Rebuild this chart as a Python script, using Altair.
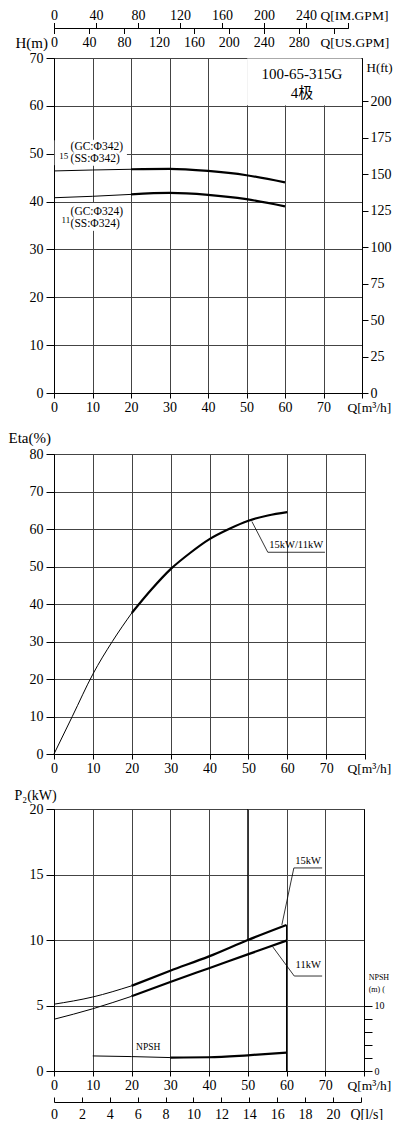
import altair as alt
import pandas as pd

SERIF = "Liberation Serif"
SERIF_CJK = "Liberation Serif, Noto Sans CJK SC"

# ---------------- data ----------------
# H-Q curves (m3/h, m)
q_h = [0, 10, 20, 30, 40, 50, 60]
h_phi342 = [46.4, 46.6, 46.75, 46.85, 46.4, 45.5, 44.0]
h_phi324 = [40.8, 41.1, 41.5, 41.8, 41.4, 40.5, 39.0]

# efficiency curve (m3/h, %)
q_eta = [0, 4.7, 10, 15, 20, 25, 30, 35, 40, 45, 50, 55, 60]
eta_vals = [0, 10, 21.3, 30, 37.6, 43.8, 49.3, 53.6, 57.3, 60.0, 62.2, 63.6, 64.5]

# power curves (m3/h, kW)
q_p = [0, 10, 20, 30, 40, 50, 60]
p_15kw = [5.1, 5.65, 6.5, 7.65, 8.75, 10.0, 11.15]
p_11kw = [3.95, 4.75, 5.7, 6.8, 7.85, 8.9, 9.95]

# NPSH curve (m3/h, m)
q_npsh = [10, 20, 30, 40, 50, 60]
npsh_vals = [2.3, 2.2, 2.05, 2.1, 2.4, 2.8]

# tick values
q_ticks = [0, 10, 20, 30, 40, 50, 60, 70, 80]
h_ticks = [0, 10, 20, 30, 40, 50, 60, 70]
hft_ticks = [0, 25, 50, 75, 100, 125, 150, 175, 200]
eta_ticks = [0, 10, 20, 30, 40, 50, 60, 70, 80]
p_ticks = [0, 5, 10, 15, 20]
npsh_ticks = [0, 2, 4, 6, 8, 10]
im_ticks = [0, 40, 80, 120, 160, 200, 240, 280]
us_ticks = [0, 40, 80, 120, 160, 200, 240, 280, 320]
ls_ticks = [0, 2, 4, 6, 8, 10, 12, 14, 16, 18, 20, 22]

# annotation texts
model_text = ["100-65-315G", "4极"]
model_q = [64.4, 64.4]
model_v = [66.7, 62.6]

imp_text = ["(GC:Φ342)", "(SS:Φ342)", "(GC:Φ324)", "(SS:Φ324)"]
imp_q = [4.3, 4.3, 4.3, 4.3]
imp_v = [51.3, 48.8, 37.9, 35.4]
pow_text = ["15", "11"]
pow_q = [2.5, 3.1]
pow_v = [49.6, 36.2]
bg_q = [0.3, 1.5]
bg_q2 = [18.8, 18.5]
bg_v = [47.6, 34.0]
bg_v2 = [52.8, 39.6]
box_q, box_q2, box_v, box_v2 = [50.2], [79.8], [60.2], [69.8]

eta_lab_text = ["15kW/11kW"]
eta_lab_q = [62.3]
eta_lab_v = [55.8]
eta_lead_q = [50.9, 55.0]
eta_lead_q2 = [55.0, 69.7]
eta_lead_v = [62.0, 53.8]
eta_lead_v2 = [53.8, 53.8]

p_lab_text = ["15kW", "11kW"]
p_lab_q = [65.6, 65.6]
p_lab_v = [16.0, 8.1]
p_lead_q = [58.8, 61.9, 56.4, 62.0]
p_lead_q2 = [61.9, 69.2, 62.0, 69.2]
p_lead_v = [11.15, 15.5, 9.5, 7.25]
p_lead_v2 = [15.5, 15.5, 7.25, 7.25]
p_mark_q = [60, 50]
p_mark_v = [0, 10]
p_mark_v2 = [11.15, 20]
npsh_lab_text = ["NPSH"]
npsh_lab_q = [24.3]
npsh_lab_v = [1.81]
side_text = ["NPSH N", "(m)  ("]
side_q = [81.2, 81.2]
side_v = [7.1, 6.2]

M_TO_FT = 3.28084


def curve_rows(qs, vs, name, split):
    rows = []
    for q, v in zip(qs, vs):
        if q <= split:
            rows.append({"Q": q, "V": v, "key": name + "_thin", "w": "thin"})
        if q >= split:
            rows.append({"Q": q, "V": v, "key": name + "_thick", "w": "thick"})
    return rows


XS = alt.Scale(domain=[0, 80], nice=False)


def x_main():
    return alt.X("Q:Q", scale=XS, axis=alt.Axis(
        orient="bottom", values=q_ticks,
        labelExpr="datum.value == 80 ? '' : datum.label",
        grid=True, tickSize=5, labelPadding=2, labelFlush=False, labelOverlap=False,
        title="Q[m³/h]", titleX=293, titleY=7, titleAlign="left",
        titleBaseline="top", titleFontSize=13.5, titleAngle=0))


def y_main(field, domain, ticks, title, tx, ty, tsize=15):
    return alt.Y(field, scale=alt.Scale(domain=domain, nice=False), axis=alt.Axis(
        values=ticks, grid=True, tickSize=8, labelPadding=3,
        title=title, titleAngle=0, titleX=tx, titleY=ty, titleFontSize=tsize,
        titleAlign="left", titleBaseline="middle"))


def line_layer(rows, x, y):
    return alt.Chart(pd.DataFrame(rows)).mark_line(
        color="black", interpolate="monotone").encode(
        x=x, y=y, detail="key:N",
        strokeWidth=alt.StrokeWidth("w:N", scale=alt.Scale(
            domain=["thin", "thick"], range=[1, 2.2]), legend=None))


def text_layer(qs, vs, texts, x, y, size, align="center", font=SERIF, limit=0):
    df = pd.DataFrame({"Q": qs, "V": vs, "t": texts})
    return alt.Chart(df).mark_text(fontSize=size, align=align, baseline="middle",
                                   font=font, color="black", limit=limit,
                                   ellipsis=" ").encode(x=x, y=y, text="t:N")


def rect_layer(q1, q2, v1, v2, x, y, fill="white", stroke="white"):
    df = pd.DataFrame({"Q": q1, "Q2": q2, "V": v1, "V2": v2})
    return alt.Chart(df).mark_rect(fill=fill, stroke=stroke, strokeWidth=1).encode(
        x=x, x2="Q2:Q", y=y, y2="V2:Q")


def rule_layer(q1, q2, v1, v2, x, y, width=1):
    df = pd.DataFrame({"Q": q1, "Q2": q2, "V": v1, "V2": v2})
    return alt.Chart(df).mark_rule(color="black", strokeWidth=width).encode(
        x=x, x2="Q2:Q", y=y, y2="V2:Q")


def ghost(df, x, yname):
    d = df.copy()
    d[yname] = 0.5
    return alt.Chart(d).mark_point(opacity=0).encode(
        x=x, y=alt.Y(yname + ":Q", axis=None, scale=alt.Scale(domain=[0, 1])))


# ---------------- top panel: H-Q ----------------
W1, H1 = 308, 335
xt = x_main()
yt = y_main("V:Q", [0, 70], h_ticks, "H(m)", -39, -15.5)
rows_h = curve_rows(q_h, h_phi342, "a", 20) + curve_rows(q_h, h_phi324, "b", 20)

inner_top = alt.layer(
    rect_layer(box_q, box_q2, box_v, box_v2, xt, yt),
    rect_layer(bg_q, bg_q2, bg_v, bg_v2, xt, yt),
    line_layer(rows_h, xt, yt),
    text_layer(model_q, model_v, model_text, xt, yt, 15, font=SERIF_CJK),
    text_layer(imp_q, imp_v, imp_text, xt, yt, 11.5, align="left"),
    text_layer(pow_q, pow_v, pow_text, xt, yt, 9),
)

ft_df = pd.DataFrame({"Q": q_h, "Hft": [v * M_TO_FT for v in h_phi342]})
ft_layer = alt.Chart(ft_df).mark_line(opacity=0).encode(
    x=alt.X("Q:Q", scale=XS, axis=None),
    y=alt.Y("Hft:Q", scale=alt.Scale(domain=[0, 70 * M_TO_FT], nice=False), axis=alt.Axis(
        orient="right", values=hft_ticks, grid=False, tickSize=6, labelPadding=2,
        title="H(ft)", titleAngle=0, titleX=4, titleY=9, titleAlign="left",
        titleBaseline="middle", titleFontSize=13)))

im_layer = ghost(pd.DataFrame({"im": im_ticks}), alt.X(
    "im:Q", scale=alt.Scale(domain=[0, 280], range=[0, 294], nice=False),
    axis=alt.Axis(orient="top", offset=30, values=im_ticks,
                  labelExpr="datum.value == 280 ? '' : datum.label",
                  grid=False, tickSize=5.5, labelPadding=0, labelFlush=False,
                  labelOverlap=False, title="Q[IM.GPM]", titleX=266, titleY=-5.5,
                  titleAlign="left", titleBaseline="bottom", titleFontSize=13.5,
                  titleAngle=0)), "g1")
us_layer = ghost(pd.DataFrame({"us": us_ticks}), alt.X(
    "us:Q", scale=alt.Scale(domain=[0, 280 * 4.40287 / 3.66612], range=[0, 294], nice=False),
    axis=alt.Axis(orient="bottom", offset=-(H1 + 30), values=us_ticks,
                  labelExpr="datum.value == 320 ? '' : datum.label",
                  grid=False, tickSize=5.5, labelPadding=2, labelFlush=False,
                  labelOverlap=False, title="Q[US.GPM]", titleX=266, titleY=7.5,
                  titleAlign="left", titleBaseline="top", titleFontSize=13.5,
                  titleAngle=0)), "g2")

top = alt.layer(inner_top, ft_layer, im_layer, us_layer).resolve_scale(
    x="independent", y="independent").properties(width=W1, height=H1)

# ---------------- middle panel: Eta ----------------
W2, H2 = 311, 300
xm = x_main()
ym = y_main("V:Q", [0, 80], eta_ticks, "Eta(%)", -46, -17)
rows_eta = curve_rows(q_eta, eta_vals, "e", 20)
mid = alt.layer(
    line_layer(rows_eta, xm, ym),
    rule_layer(eta_lead_q, eta_lead_q2, eta_lead_v, eta_lead_v2, xm, ym, 0.8),
    text_layer(eta_lab_q, eta_lab_v, eta_lab_text, xm, ym, 10.5),
).properties(width=W2, height=H2)

# ---------------- bottom panel: P2 + NPSH ----------------
W3, H3 = 310, 262
xb = x_main()
yb = y_main("V:Q", [0, 20], p_ticks, "P₂(kW)", -40, -14, 14)
rows_p = curve_rows(q_p, p_15kw, "p15", 20) + curve_rows(q_p, p_11kw, "p11", 20)
inner_bot = alt.layer(
    rule_layer(p_mark_q, p_mark_q, p_mark_v, p_mark_v2, xb, yb, 1),
    line_layer(rows_p, xb, yb),
    rule_layer(p_lead_q, p_lead_q2, p_lead_v, p_lead_v2, xb, yb, 0.8),
    text_layer(p_lab_q, p_lab_v, p_lab_text, xb, yb, 10.5),
    text_layer(npsh_lab_q, npsh_lab_v, npsh_lab_text, xb, yb, 9.5),
    text_layer(side_q, side_v, side_text, xb, yb, 8, align="left", limit=23),
)

rows_n = curve_rows(q_npsh, npsh_vals, "n", 30)
npsh_layer = alt.Chart(pd.DataFrame(rows_n)).mark_line(
    color="black", interpolate="monotone").encode(
    x=alt.X("Q:Q", scale=XS, axis=None),
    y=alt.Y("V:Q", scale=alt.Scale(domain=[0, 40], nice=False), axis=alt.Axis(
        orient="right", values=npsh_ticks,
        labelExpr="(datum.value == 0 || datum.value == 10) ? datum.label : ''",
        grid=False, tickSize=8, labelPadding=2, labelFontSize=10, title=None)),
    detail="key:N",
    strokeWidth=alt.StrokeWidth("w:N", scale=alt.Scale(
        domain=["thin", "thick"], range=[1, 2.2]), legend=None))

ls_df = pd.DataFrame({"ls": ls_ticks})
ls_scale = alt.Scale(domain=[0, 22], range=[0, 22 * 3.6 * W3 / 80], nice=False)
LS_OFF = 31
ls_ticks_layer = ghost(ls_df, alt.X("ls:Q", scale=ls_scale, axis=alt.Axis(
    orient="top", offset=-(H3 + LS_OFF), values=ls_ticks, labels=False, tickSize=5,
    grid=False, title=None)), "g3")
ls_label_layer = ghost(ls_df, alt.X("ls:Q", scale=ls_scale, axis=alt.Axis(
    orient="bottom", offset=LS_OFF, values=ls_ticks, ticks=False, domain=False,
    labelExpr="datum.value == 22 ? '' : datum.label", labelPadding=5,
    labelFlush=False, labelOverlap=False, grid=False,
    title="Q[l/s]", titleX=296, titleY=5, titleAlign="left", titleBaseline="top",
    titleFontSize=14, titleAngle=0)), "g4")

bottom = alt.layer(inner_bot, npsh_layer, ls_ticks_layer, ls_label_layer).resolve_scale(
    x="independent", y="independent").properties(width=W3, height=H3)


def spacer(h):
    return alt.Chart(pd.DataFrame({"s": [0]})).mark_point(opacity=0).encode(
        x=alt.X("s:Q", axis=None), y=alt.Y("s:Q", axis=None)).properties(
        width=10, height=h, view=alt.ViewBackground(stroke="transparent"))


chart = alt.vconcat(top, spacer(61), mid, spacer(55), bottom, spacing=0, bounds="flush").properties(
    padding={"left": -1, "top": 0, "right": 0, "bottom": -2},
    background="white",
).configure_axis(
    labelFont=SERIF, titleFont=SERIF, labelFontSize=14, titleFontSize=15,
    labelColor="black", titleColor="black", tickColor="black", domainColor="black",
    gridColor="#444", gridWidth=1, gridOpacity=1, titleFontWeight="normal",
    tickWidth=1, domainWidth=1,
).configure_view(stroke="black", strokeWidth=1).configure_text(font=SERIF)

chart.save("out.html", embed_options={"renderer": "svg", "actions": False})
